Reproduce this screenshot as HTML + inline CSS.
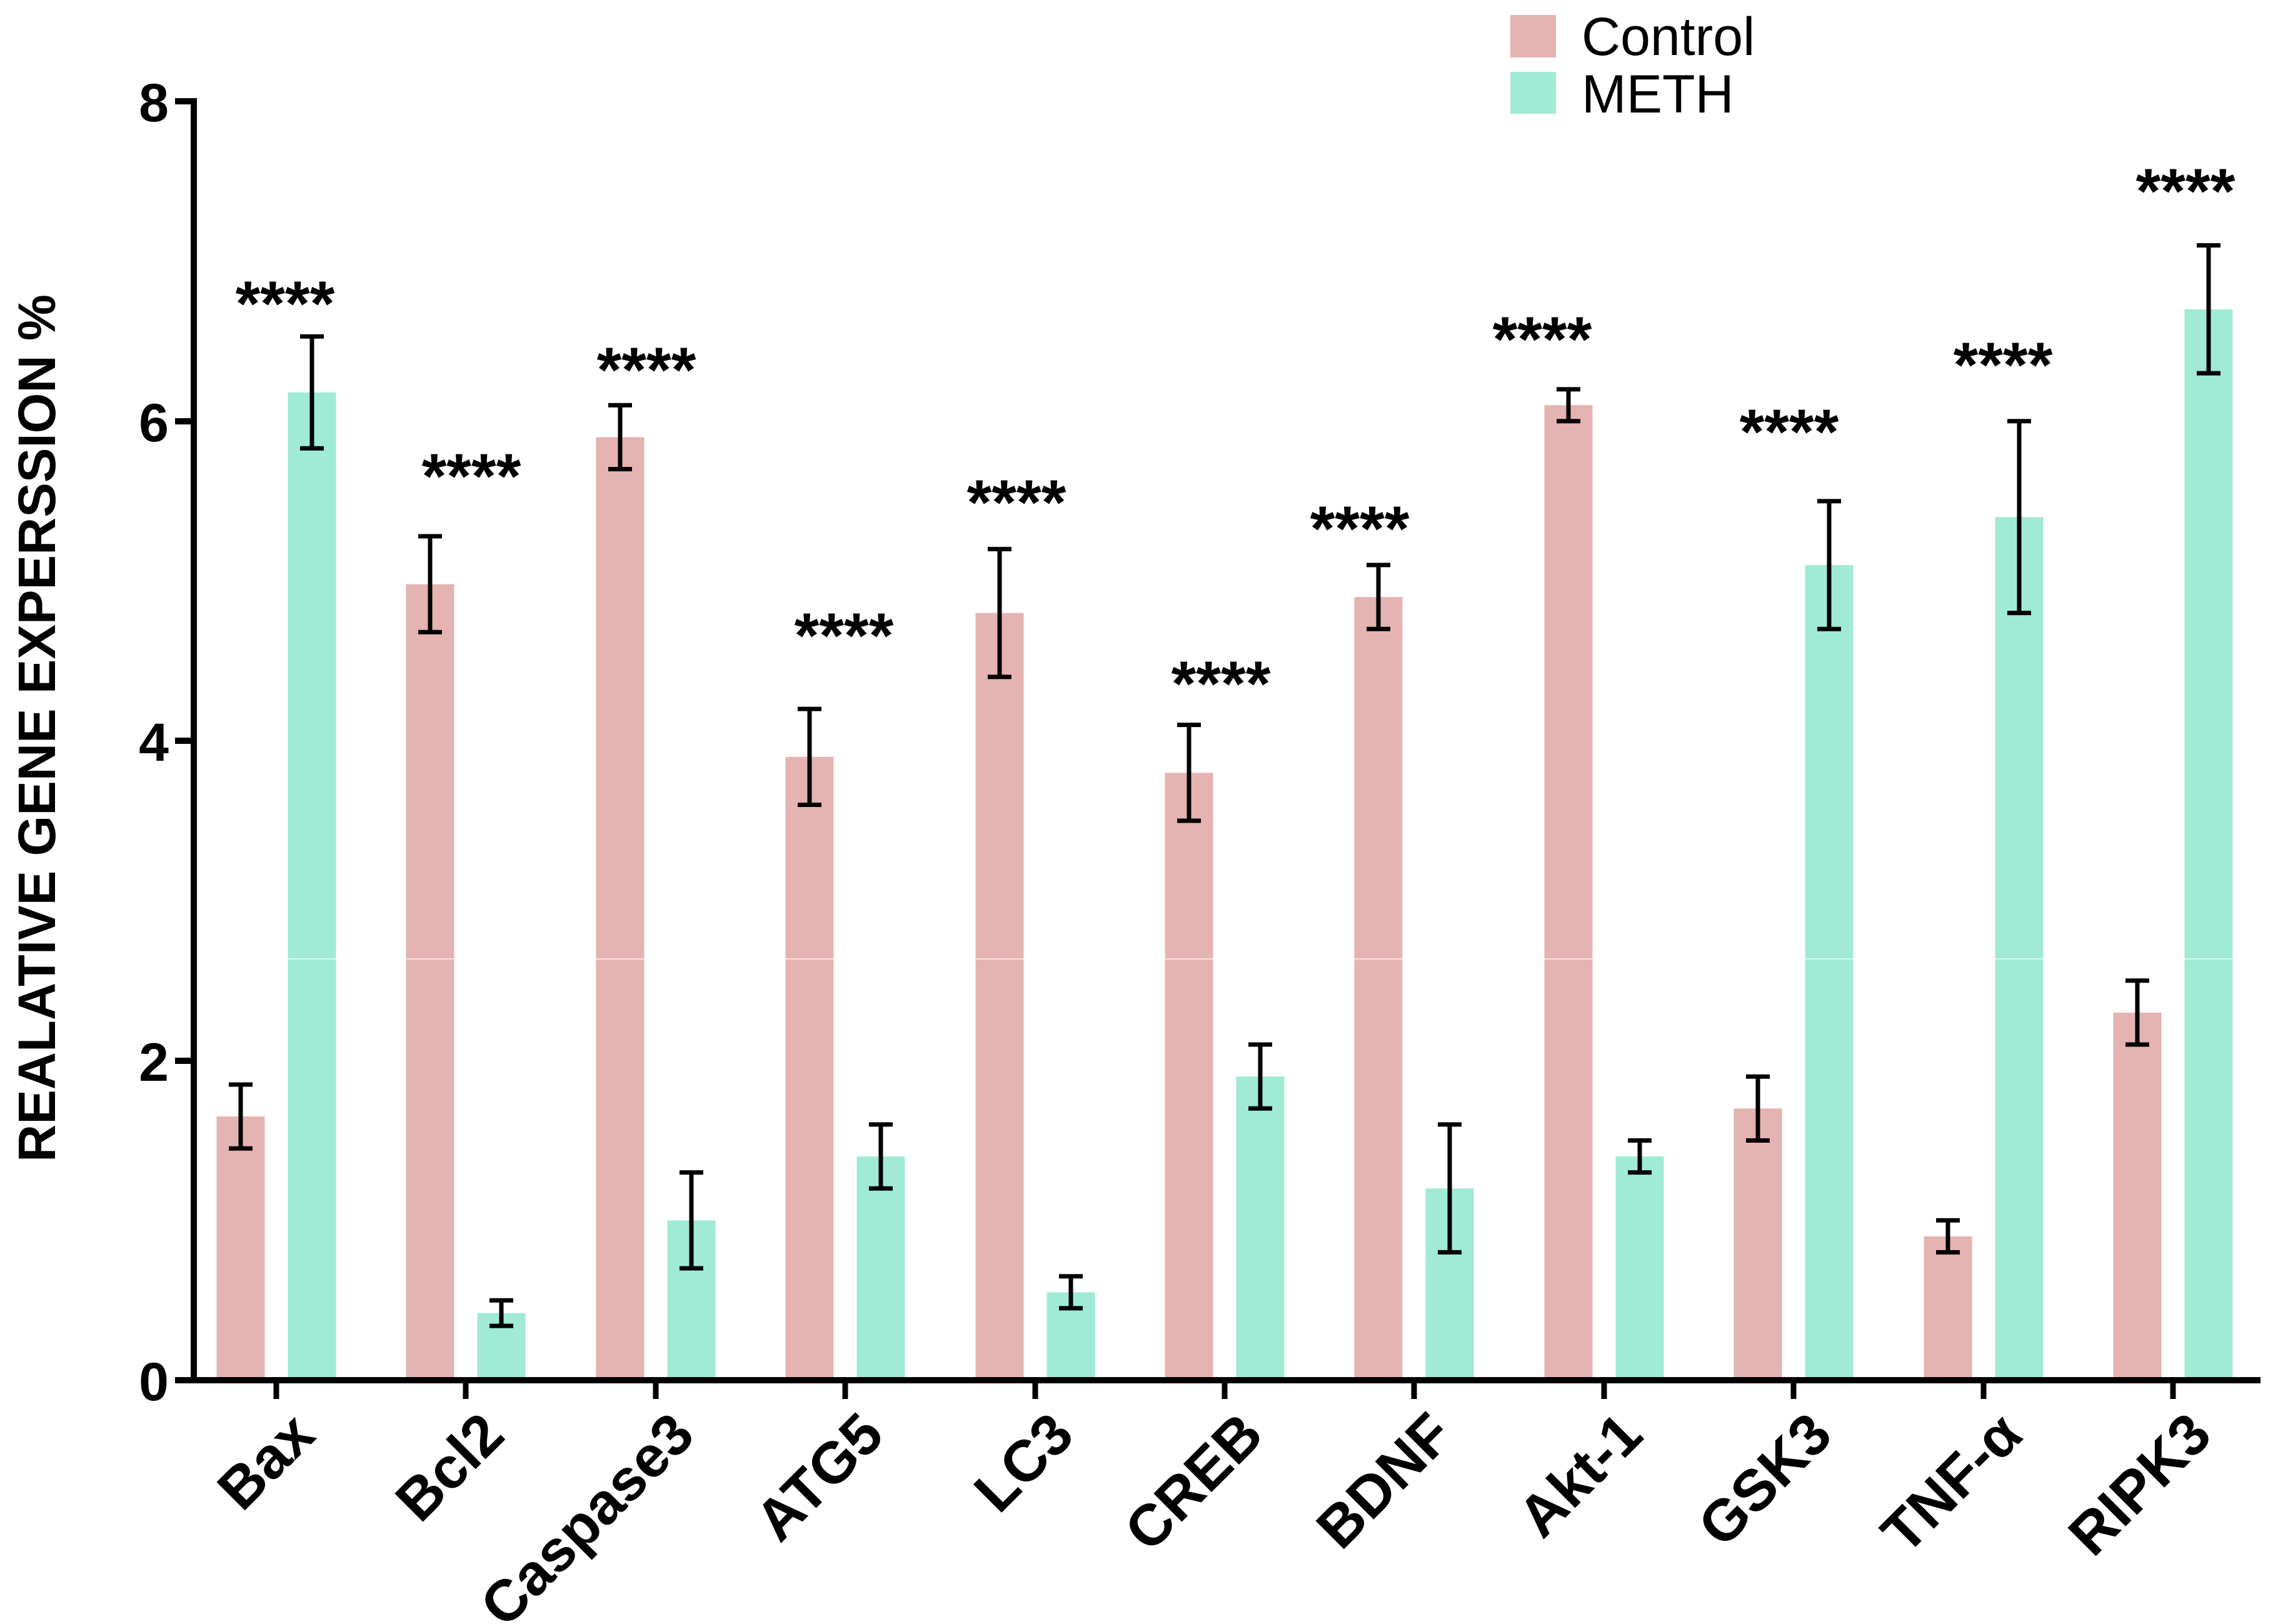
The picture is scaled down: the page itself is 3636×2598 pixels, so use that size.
<!DOCTYPE html>
<html><head><meta charset="utf-8"><style>html,body{margin:0;padding:0;background:#fff}svg{display:block}</style></head>
<body>
<svg width="3636" height="2598" viewBox="0 0 3636 2598" xmlns="http://www.w3.org/2000/svg" font-family="Liberation Sans, Arial, sans-serif">
<rect width="3636" height="2598" fill="#fff"/>
<rect x="2416" y="24" width="73" height="68" fill="#e5b3b1"/>
<rect x="2416" y="115" width="73" height="67" fill="#a0ead6"/>
<text x="2530" y="88" font-size="86">Control</text>
<text x="2530" y="180" font-size="86">METH</text>
<text transform="translate(88,1165) rotate(-90)" text-anchor="middle" font-size="84" font-weight="bold" textLength="1388" lengthAdjust="spacingAndGlyphs">REALATIVE GENE EXPERSSION %</text>

<g fill="#e5b3b1">
<rect x="346.5" y="1786.1" width="77" height="421.9"/>
<rect x="649.5" y="934.6" width="77" height="1273.4"/>
<rect x="953.5" y="699.4" width="77" height="1508.6"/>
<rect x="1256.5" y="1210.8" width="77" height="997.2"/>
<rect x="1560.5" y="980.6" width="77" height="1227.4"/>
<rect x="1863.5" y="1236.3" width="77" height="971.7"/>
<rect x="2166.5" y="955.1" width="77" height="1252.9"/>
<rect x="2470.5" y="648.2" width="77" height="1559.8"/>
<rect x="2773.5" y="1773.3" width="77" height="434.7"/>
<rect x="3077.5" y="1977.9" width="77" height="230.1"/>
<rect x="3380.5" y="1619.9" width="77" height="588.1"/>
</g>
<g fill="#a0ead6">
<rect x="460.5" y="627.8" width="77" height="1580.2"/>
<rect x="763.5" y="2100.6" width="77" height="107.4"/>
<rect x="1067.5" y="1952.3" width="77" height="255.7"/>
<rect x="1370.5" y="1850" width="77" height="358"/>
<rect x="1674.5" y="2067.4" width="77" height="140.6"/>
<rect x="1977.5" y="1722.2" width="77" height="485.8"/>
<rect x="2280.5" y="1901.2" width="77" height="306.8"/>
<rect x="2584.5" y="1850" width="77" height="358"/>
<rect x="2887.5" y="904" width="77" height="1304"/>
<rect x="3191.5" y="827.2" width="77" height="1380.8"/>
<rect x="3494.5" y="494.8" width="77" height="1713.2"/>
</g>
<rect x="340" y="1533" width="3240" height="2" fill="#fff" opacity="0.6"/>

<g stroke="#000" stroke-width="7" fill="none">
<path d="M385 1735V1837.2M366 1735h38M366 1837.2h38"/>
<path d="M499 538.3V717.3M480 538.3h38M480 717.3h38"/>
<path d="M688 857.9V1011.3M669 857.9h38M669 1011.3h38"/>
<path d="M802 2080.2V2121.1M783 2080.2h38M783 2121.1h38"/>
<path d="M992 648.2V750.5M973 648.2h38M973 750.5h38"/>
<path d="M1106 1875.6V2029M1087 1875.6h38M1087 2029h38"/>
<path d="M1295 1134.1V1287.5M1276 1134.1h38M1276 1287.5h38"/>
<path d="M1409 1798.9V1901.2M1390 1798.9h38M1390 1901.2h38"/>
<path d="M1599 878.4V1082.9M1580 878.4h38M1580 1082.9h38"/>
<path d="M1713 2041.8V2092.9M1694 2041.8h38M1694 2092.9h38"/>
<path d="M1902 1159.6V1313M1883 1159.6h38M1883 1313h38"/>
<path d="M2016 1671V1773.3M1997 1671h38M1997 1773.3h38"/>
<path d="M2205 903.9V1006.2M2186 903.9h38M2186 1006.2h38"/>
<path d="M2319 1798.9V2003.4M2300 1798.9h38M2300 2003.4h38"/>
<path d="M2509 622.7V673.8M2490 622.7h38M2490 673.8h38"/>
<path d="M2623 1824.5V1875.6M2604 1824.5h38M2604 1875.6h38"/>
<path d="M2812 1722.2V1824.5M2793 1722.2h38M2793 1824.5h38"/>
<path d="M2926 801.7V1006.2M2907 801.7h38M2907 1006.2h38"/>
<path d="M3116 1952.3V2003.4M3097 1952.3h38M3097 2003.4h38"/>
<path d="M3230 673.8V980.6M3211 673.8h38M3211 980.6h38"/>
<path d="M3419 1568.8V1671M3400 1568.8h38M3400 1671h38"/>
<path d="M3533 392.5V597.1M3514 392.5h38M3514 597.1h38"/>
</g>

<g font-size="102" font-weight="bold" text-anchor="middle">
<text x="456" y="521">****</text>
<text x="754" y="797">****</text>
<text x="1034" y="627">****</text>
<text x="1350" y="1052">****</text>
<text x="1626" y="839">****</text>
<text x="1953" y="1129">****</text>
<text x="2175" y="881">****</text>
<text x="2467" y="578">****</text>
<text x="2862" y="726">****</text>
<text x="3204" y="619">****</text>
<text x="3496" y="341">****</text>
</g>

<g stroke="#000" stroke-width="10" fill="none">
<line x1="310" y1="157" x2="310" y2="2212"/>
<line x1="280" y1="2208" x2="3616" y2="2208"/>
<line x1="280" y1="162" x2="310" y2="162"/>
<line x1="280" y1="674" x2="310" y2="674"/>
<line x1="280" y1="1185" x2="310" y2="1185"/>
<line x1="280" y1="1697" x2="310" y2="1697"/>
</g>
<g stroke="#000" stroke-width="9">
<line x1="442" y1="2208" x2="442" y2="2238"/>
<line x1="745" y1="2208" x2="745" y2="2238"/>
<line x1="1049" y1="2208" x2="1049" y2="2238"/>
<line x1="1352" y1="2208" x2="1352" y2="2238"/>
<line x1="1656" y1="2208" x2="1656" y2="2238"/>
<line x1="1959" y1="2208" x2="1959" y2="2238"/>
<line x1="2262" y1="2208" x2="2262" y2="2238"/>
<line x1="2566" y1="2208" x2="2566" y2="2238"/>
<line x1="2869" y1="2208" x2="2869" y2="2238"/>
<line x1="3173" y1="2208" x2="3173" y2="2238"/>
<line x1="3476" y1="2208" x2="3476" y2="2238"/>
</g>
<g font-size="86" font-weight="bold" text-anchor="end">
<text x="270" y="194">8</text>
<text x="270" y="706">6</text>
<text x="270" y="1217">4</text>
<text x="270" y="1729">2</text>
<text x="270" y="2240">0</text>
</g>
<g font-size="93" font-weight="bold" text-anchor="end">
<text transform="translate(508,2300) rotate(-45)">Bax</text>
<text transform="translate(811,2300) rotate(-45)">Bcl2</text>
<text transform="translate(1115,2300) rotate(-45)">Caspase3</text>
<text transform="translate(1418,2300) rotate(-45)">ATG5</text>
<text transform="translate(1722,2300) rotate(-45)">LC3</text>
<text transform="translate(2025,2300) rotate(-45)">CREB</text>
<text transform="translate(2328,2300) rotate(-45)">BDNF</text>
<text transform="translate(2632,2300) rotate(-45)">Akt-1</text>
<text transform="translate(2935,2300) rotate(-45)">GSK3</text>
<text transform="translate(3239,2300) rotate(-45)">TNF-α</text>
<text transform="translate(3542,2300) rotate(-45)">RIPK3</text>
</g>
</svg>
</body></html>
